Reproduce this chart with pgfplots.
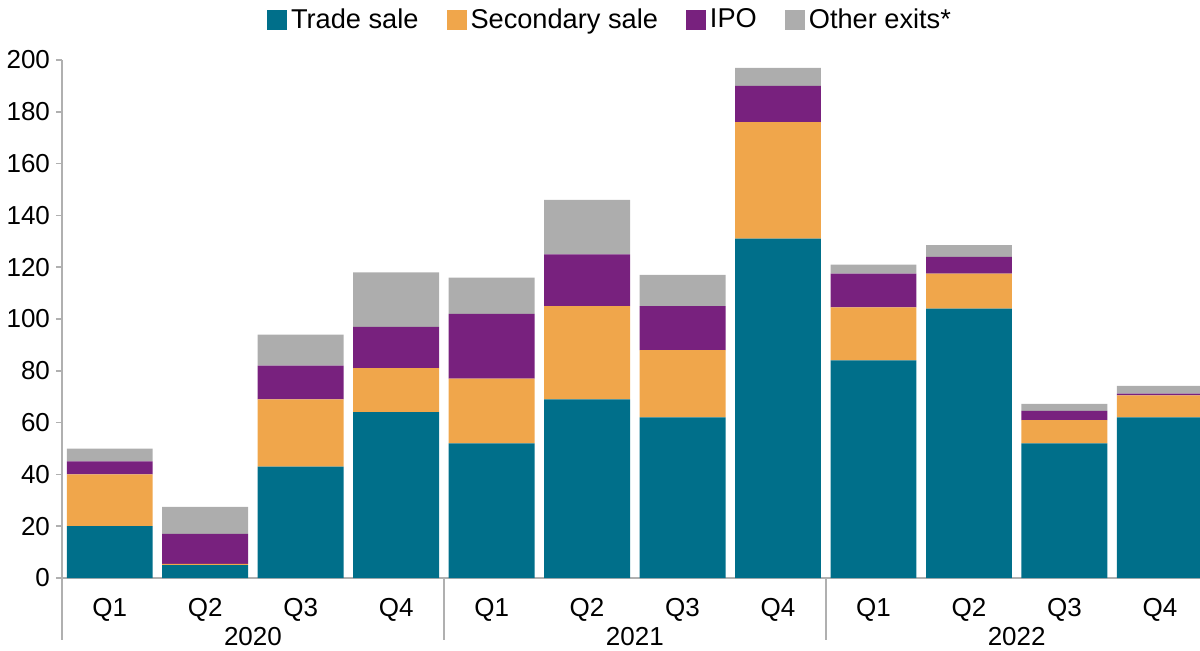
\documentclass[border=0pt]{standalone}
\usepackage{fontspec}
\setmainfont{Liberation Sans}
\usepackage{pgfplots}
\pgfplotsset{compat=1.18}
\definecolor{trade}{RGB}{0,111,138}
\definecolor{second}{RGB}{240,166,75}
\definecolor{ipo}{RGB}{120,33,126}
\definecolor{other}{RGB}{173,173,173}
\definecolor{axisgray}{RGB}{176,176,176}
\begin{document}
\fontsize{13}{15.6}\selectfont
\begin{tikzpicture}
\begin{axis}[
  at={(0,0)}, anchor=south west,
  scale only axis, width=569pt, height=259pt,
  ybar stacked, bar width=0.9,
  xmin=-0.5, xmax=11.42, ymin=0, ymax=200,
  axis x line*=bottom, axis y line*=left,
  axis line style={draw=axisgray, line width=1pt, -},
  xtick={0,...,11},
  xticklabels={Q1,Q2,Q3,Q4,Q1,Q2,Q3,Q4,Q1,Q2,Q3,Q4},
  x tick style={draw=none},
  xticklabel style={anchor=base, yshift=-16pt},
  ytick={0,20,...,200},
  y tick style={draw=axisgray, line width=0.8pt},
  tick align=outside, major tick length=3pt,
  yticklabel style={anchor=east, xshift=1.5pt},
  /pgf/number format/assume math mode=true,
  ticklabel style={font=\fontsize{13}{15.6}\selectfont},
  legend columns=4,
  legend style={at={(0.4824,1.077)}, anchor=center, draw=none, fill=none,
    font=\fontsize{13.6}{16}\selectfont,
    /tikz/every even column/.append style={column sep=12pt},
    inner sep=0pt},
  legend image code/.code={\fill[#1] (0pt,-5pt) rectangle (10pt,5pt);},
  clip=true,
]
\addplot[fill=trade, draw=none] coordinates {(0,20) (1,5) (2,43) (3,64) (4,52) (5,69) (6,62) (7,131) (8,84) (9,104) (10,52) (11,62)};
\addplot[fill=second, draw=none] coordinates {(0,20) (1,0.5) (2,26) (3,17) (4,25) (5,36) (6,26) (7,45) (8,20.5) (9,13.5) (10,9) (11,8.5)};
\addplot[fill=ipo, draw=none] coordinates {(0,5) (1,11.5) (2,13) (3,16) (4,25) (5,20) (6,17) (7,14) (8,13) (9,6.5) (10,3.5) (11,0.7)};
\addplot[fill=other, draw=none] coordinates {(0,5) (1,10.5) (2,12) (3,21) (4,14) (5,21) (6,12) (7,7) (8,3.5) (9,4.5) (10,2.7) (11,3)};
\legend{Trade sale, Secondary sale, IPO, Other exits*}
\end{axis}
\foreach \s in {0,4,8}{
  \draw[axisgray, line width=1pt] ({\s*47.735pt},0) -- ++(0,-31pt);
}
\foreach \c/\y in {1.5/2020, 5.5/2021, 9.5/2022}{
  \node[anchor=base] at ({(\c+0.5)*47.735pt}, -33.5pt) {\y};
}
\pgfresetboundingbox
\useasboundingbox (-31pt,-36pt) rectangle (569pt,289pt);
\end{tikzpicture}
\end{document}
